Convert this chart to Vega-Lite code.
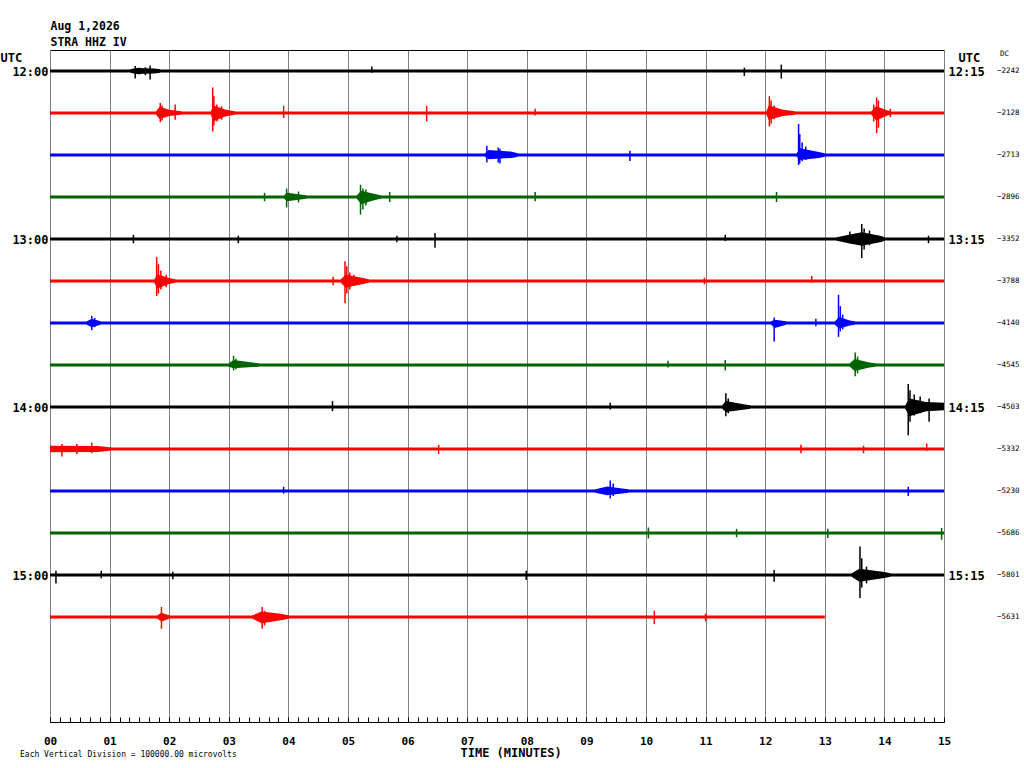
{
  "$schema": "https://vega.github.io/schema/vega-lite/v6.json",
  "width": 894,
  "height": 672,
  "autosize": "none",
  "padding": {"left": 50, "top": 50, "right": 80, "bottom": 46},
  "background": "white",
  "config": {
    "font": "DejaVu Sans Mono",
    "view": {"stroke": null},
    "axis": {"labelColor": "black", "titleColor": "black"}
  },
  "title": {
    "text": "Each Vertical Division = 100000.00 microvolts",
    "orient": "bottom",
    "anchor": "start",
    "frame": "group",
    "font": "DejaVu Sans Mono",
    "fontSize": 8,
    "fontWeight": "normal",
    "color": "black",
    "dx": -30,
    "offset": -7
  },
  "datasets": {
    "base": [
      {"tr": 0, "s": 0, "e": 15}, {"tr": 1, "s": 0, "e": 15}, {"tr": 2, "s": 0, "e": 15},
      {"tr": 3, "s": 0, "e": 15}, {"tr": 4, "s": 0, "e": 15}, {"tr": 5, "s": 0, "e": 15},
      {"tr": 6, "s": 0, "e": 15}, {"tr": 7, "s": 0, "e": 15}, {"tr": 8, "s": 0, "e": 15},
      {"tr": 9, "s": 0, "e": 15}, {"tr": 10, "s": 0, "e": 15}, {"tr": 11, "s": 0, "e": 15},
      {"tr": 12, "s": 0, "e": 15}, {"tr": 13, "s": 0, "e": 13.0}
    ],
    "dc": [
      {"tr": 0, "dc": -2242}, {"tr": 1, "dc": -2128}, {"tr": 2, "dc": -2713},
      {"tr": 3, "dc": -2896}, {"tr": 4, "dc": -3352}, {"tr": 5, "dc": -3788},
      {"tr": 6, "dc": -4140}, {"tr": 7, "dc": -4545}, {"tr": 8, "dc": -4503},
      {"tr": 9, "dc": -5332}, {"tr": 10, "dc": -5230}, {"tr": 11, "dc": -5686},
      {"tr": 12, "dc": -5801}, {"tr": 13, "dc": -5631}
    ],
    "bursts": [
      {"id": 1, "tr": 0, "t": 1.35, "lo": -0.04, "hi": 0.04},
      {"id": 1, "tr": 0, "t": 1.45, "lo": -0.07, "hi": 0.07},
      {"id": 1, "tr": 0, "t": 1.75, "lo": -0.06, "hi": 0.06},
      {"id": 1, "tr": 0, "t": 1.85, "lo": -0.04, "hi": 0.04},
      {"id": 2, "tr": 1, "t": 1.78, "lo": 0.96, "hi": 1.04},
      {"id": 2, "tr": 1, "t": 1.84, "lo": 0.85, "hi": 1.14},
      {"id": 2, "tr": 1, "t": 2.0, "lo": 0.92, "hi": 1.07},
      {"id": 2, "tr": 1, "t": 2.2, "lo": 0.96, "hi": 1.04},
      {"id": 3, "tr": 1, "t": 2.7, "lo": 0.96, "hi": 1.04},
      {"id": 3, "tr": 1, "t": 2.74, "lo": 0.82, "hi": 1.2},
      {"id": 3, "tr": 1, "t": 2.95, "lo": 0.92, "hi": 1.08},
      {"id": 3, "tr": 1, "t": 3.1, "lo": 0.96, "hi": 1.04},
      {"id": 4, "tr": 1, "t": 12.02, "lo": 0.96, "hi": 1.04},
      {"id": 4, "tr": 1, "t": 12.06, "lo": 0.82, "hi": 1.16},
      {"id": 4, "tr": 1, "t": 12.3, "lo": 0.92, "hi": 1.07},
      {"id": 4, "tr": 1, "t": 12.5, "lo": 0.96, "hi": 1.04},
      {"id": 5, "tr": 1, "t": 13.78, "lo": 0.96, "hi": 1.04},
      {"id": 5, "tr": 1, "t": 13.86, "lo": 0.84, "hi": 1.18},
      {"id": 5, "tr": 1, "t": 14.02, "lo": 0.92, "hi": 1.08},
      {"id": 5, "tr": 1, "t": 14.1, "lo": 0.96, "hi": 1.04},
      {"id": 6, "tr": 2, "t": 7.3, "lo": 1.96, "hi": 2.04},
      {"id": 6, "tr": 2, "t": 7.36, "lo": 1.88, "hi": 2.1},
      {"id": 6, "tr": 2, "t": 7.75, "lo": 1.92, "hi": 2.07},
      {"id": 6, "tr": 2, "t": 7.85, "lo": 1.96, "hi": 2.04},
      {"id": 7, "tr": 2, "t": 12.53, "lo": 1.96, "hi": 2.04},
      {"id": 7, "tr": 2, "t": 12.58, "lo": 1.84, "hi": 2.12},
      {"id": 7, "tr": 2, "t": 12.9, "lo": 1.93, "hi": 2.07},
      {"id": 7, "tr": 2, "t": 13.0, "lo": 1.96, "hi": 2.04},
      {"id": 8, "tr": 3, "t": 5.15, "lo": 2.96, "hi": 3.04},
      {"id": 8, "tr": 3, "t": 5.22, "lo": 2.85, "hi": 3.17},
      {"id": 8, "tr": 3, "t": 5.45, "lo": 2.93, "hi": 3.07},
      {"id": 8, "tr": 3, "t": 5.55, "lo": 2.96, "hi": 3.04},
      {"id": 9, "tr": 3, "t": 3.93, "lo": 2.96, "hi": 3.04},
      {"id": 9, "tr": 3, "t": 3.98, "lo": 2.9, "hi": 3.1},
      {"id": 9, "tr": 3, "t": 4.2, "lo": 2.94, "hi": 3.06},
      {"id": 9, "tr": 3, "t": 4.3, "lo": 2.96, "hi": 3.04},
      {"id": 10, "tr": 4, "t": 13.2, "lo": 3.96, "hi": 4.04},
      {"id": 10, "tr": 4, "t": 13.4, "lo": 3.9, "hi": 4.1},
      {"id": 10, "tr": 4, "t": 13.62, "lo": 3.84, "hi": 4.16},
      {"id": 10, "tr": 4, "t": 13.95, "lo": 3.93, "hi": 4.07},
      {"id": 10, "tr": 4, "t": 14.0, "lo": 3.96, "hi": 4.04},
      {"id": 11, "tr": 5, "t": 1.75, "lo": 4.96, "hi": 5.04},
      {"id": 11, "tr": 5, "t": 1.8, "lo": 4.84, "hi": 5.18},
      {"id": 11, "tr": 5, "t": 2.0, "lo": 4.93, "hi": 5.07},
      {"id": 11, "tr": 5, "t": 2.1, "lo": 4.96, "hi": 5.04},
      {"id": 12, "tr": 5, "t": 4.88, "lo": 4.96, "hi": 5.04},
      {"id": 12, "tr": 5, "t": 4.96, "lo": 4.85, "hi": 5.16},
      {"id": 12, "tr": 5, "t": 5.25, "lo": 4.93, "hi": 5.07},
      {"id": 12, "tr": 5, "t": 5.35, "lo": 4.96, "hi": 5.04},
      {"id": 13, "tr": 6, "t": 0.62, "lo": 5.96, "hi": 6.04},
      {"id": 13, "tr": 6, "t": 0.7, "lo": 5.9, "hi": 6.1},
      {"id": 13, "tr": 6, "t": 0.85, "lo": 5.96, "hi": 6.04},
      {"id": 14, "tr": 6, "t": 12.1, "lo": 5.96, "hi": 6.04},
      {"id": 14, "tr": 6, "t": 12.16, "lo": 5.92, "hi": 6.12},
      {"id": 14, "tr": 6, "t": 12.35, "lo": 5.96, "hi": 6.04},
      {"id": 15, "tr": 6, "t": 13.17, "lo": 5.96, "hi": 6.04},
      {"id": 15, "tr": 6, "t": 13.24, "lo": 5.86, "hi": 6.13},
      {"id": 15, "tr": 6, "t": 13.42, "lo": 5.94, "hi": 6.06},
      {"id": 15, "tr": 6, "t": 13.5, "lo": 5.96, "hi": 6.04},
      {"id": 16, "tr": 7, "t": 3.0, "lo": 6.96, "hi": 7.04},
      {"id": 16, "tr": 7, "t": 3.08, "lo": 6.88, "hi": 7.08},
      {"id": 16, "tr": 7, "t": 3.4, "lo": 6.94, "hi": 7.05},
      {"id": 16, "tr": 7, "t": 3.5, "lo": 6.96, "hi": 7.04},
      {"id": 17, "tr": 7, "t": 13.42, "lo": 6.96, "hi": 7.04},
      {"id": 17, "tr": 7, "t": 13.5, "lo": 6.86, "hi": 7.14},
      {"id": 17, "tr": 7, "t": 13.75, "lo": 6.94, "hi": 7.06},
      {"id": 17, "tr": 7, "t": 13.85, "lo": 6.96, "hi": 7.04},
      {"id": 18, "tr": 8, "t": 11.28, "lo": 7.96, "hi": 8.04},
      {"id": 18, "tr": 8, "t": 11.34, "lo": 7.86, "hi": 8.12},
      {"id": 18, "tr": 8, "t": 11.66, "lo": 7.94, "hi": 8.06},
      {"id": 18, "tr": 8, "t": 11.75, "lo": 7.96, "hi": 8.04},
      {"id": 19, "tr": 8, "t": 14.35, "lo": 7.96, "hi": 8.04},
      {"id": 19, "tr": 8, "t": 14.42, "lo": 7.8, "hi": 8.22},
      {"id": 19, "tr": 8, "t": 14.7, "lo": 7.88, "hi": 8.1},
      {"id": 19, "tr": 8, "t": 15.0, "lo": 7.9, "hi": 8.08},
      {"id": 20, "tr": 9, "t": 0.0, "lo": 8.92, "hi": 9.08},
      {"id": 20, "tr": 9, "t": 0.8, "lo": 8.93, "hi": 9.07},
      {"id": 20, "tr": 9, "t": 1.0, "lo": 8.96, "hi": 9.04},
      {"id": 21, "tr": 10, "t": 9.15, "lo": 9.96, "hi": 10.04},
      {"id": 21, "tr": 10, "t": 9.35, "lo": 9.89, "hi": 10.1},
      {"id": 21, "tr": 10, "t": 9.6, "lo": 9.94, "hi": 10.06},
      {"id": 21, "tr": 10, "t": 9.7, "lo": 9.96, "hi": 10.04},
      {"id": 22, "tr": 12, "t": 13.45, "lo": 11.96, "hi": 12.04},
      {"id": 22, "tr": 12, "t": 13.58, "lo": 11.85, "hi": 12.16},
      {"id": 22, "tr": 12, "t": 14.0, "lo": 11.93, "hi": 12.07},
      {"id": 22, "tr": 12, "t": 14.1, "lo": 11.96, "hi": 12.04},
      {"id": 23, "tr": 13, "t": 3.4, "lo": 12.96, "hi": 13.04},
      {"id": 23, "tr": 13, "t": 3.55, "lo": 12.87, "hi": 13.15},
      {"id": 23, "tr": 13, "t": 3.9, "lo": 12.93, "hi": 13.07},
      {"id": 23, "tr": 13, "t": 4.0, "lo": 12.96, "hi": 13.04},
      {"id": 24, "tr": 13, "t": 1.8, "lo": 12.96, "hi": 13.04},
      {"id": 24, "tr": 13, "t": 1.87, "lo": 12.9, "hi": 13.11},
      {"id": 24, "tr": 13, "t": 2.0, "lo": 12.96, "hi": 13.04}
    ],
    "spikes": [
      {"tr": 0, "t": 1.43, "lo": -0.12, "hi": 0.18},
      {"tr": 0, "t": 1.5, "lo": -0.08, "hi": 0.08},
      {"tr": 0, "t": 1.6, "lo": -0.09, "hi": 0.1},
      {"tr": 0, "t": 1.68, "lo": -0.13, "hi": 0.2},
      {"tr": 0, "t": 5.4, "lo": -0.11, "hi": 0.04},
      {"tr": 0, "t": 11.65, "lo": -0.08, "hi": 0.12},
      {"tr": 0, "t": 12.27, "lo": -0.15, "hi": 0.18},
      {"tr": 1, "t": 1.85, "lo": 0.76, "hi": 1.22},
      {"tr": 1, "t": 1.88, "lo": 0.82, "hi": 1.18},
      {"tr": 1, "t": 2.1, "lo": 0.8, "hi": 1.16},
      {"tr": 1, "t": 2.73, "lo": 0.39, "hi": 1.44},
      {"tr": 1, "t": 2.75, "lo": 0.6, "hi": 1.3},
      {"tr": 1, "t": 2.8, "lo": 0.8, "hi": 1.2},
      {"tr": 1, "t": 2.88, "lo": 0.84, "hi": 1.16},
      {"tr": 1, "t": 3.92, "lo": 0.83, "hi": 1.12},
      {"tr": 1, "t": 6.32, "lo": 0.83, "hi": 1.2},
      {"tr": 1, "t": 8.14, "lo": 0.9, "hi": 1.06},
      {"tr": 1, "t": 12.07, "lo": 0.6, "hi": 1.32},
      {"tr": 1, "t": 12.1, "lo": 0.7, "hi": 1.25},
      {"tr": 1, "t": 12.15, "lo": 0.82, "hi": 1.15},
      {"tr": 1, "t": 13.82, "lo": 0.8, "hi": 1.2},
      {"tr": 1, "t": 13.87, "lo": 0.63, "hi": 1.48},
      {"tr": 1, "t": 13.9, "lo": 0.7, "hi": 1.35},
      {"tr": 1, "t": 14.1, "lo": 0.9, "hi": 1.1},
      {"tr": 2, "t": 7.33, "lo": 1.78, "hi": 2.18},
      {"tr": 2, "t": 7.52, "lo": 1.82, "hi": 2.18},
      {"tr": 2, "t": 7.55, "lo": 1.85, "hi": 2.2},
      {"tr": 2, "t": 9.73, "lo": 1.9, "hi": 2.14},
      {"tr": 2, "t": 12.56, "lo": 1.26, "hi": 2.24},
      {"tr": 2, "t": 12.58, "lo": 1.5, "hi": 2.2},
      {"tr": 2, "t": 12.62, "lo": 1.7, "hi": 2.15},
      {"tr": 2, "t": 12.68, "lo": 1.8, "hi": 2.12},
      {"tr": 3, "t": 3.6, "lo": 2.9, "hi": 3.1},
      {"tr": 3, "t": 3.97, "lo": 2.8, "hi": 3.25},
      {"tr": 3, "t": 4.17, "lo": 2.87, "hi": 3.13},
      {"tr": 3, "t": 5.21, "lo": 2.71, "hi": 3.42},
      {"tr": 3, "t": 5.25, "lo": 2.8, "hi": 3.3},
      {"tr": 3, "t": 5.3, "lo": 2.82, "hi": 3.2},
      {"tr": 3, "t": 5.7, "lo": 2.88, "hi": 3.12},
      {"tr": 3, "t": 8.14, "lo": 2.88, "hi": 3.1},
      {"tr": 3, "t": 12.19, "lo": 2.88, "hi": 3.12},
      {"tr": 4, "t": 1.4, "lo": 3.9, "hi": 4.1},
      {"tr": 4, "t": 3.16, "lo": 3.92, "hi": 4.1},
      {"tr": 4, "t": 5.82, "lo": 3.92, "hi": 4.08},
      {"tr": 4, "t": 6.46, "lo": 3.86, "hi": 4.21},
      {"tr": 4, "t": 11.33, "lo": 3.9, "hi": 4.05},
      {"tr": 4, "t": 13.42, "lo": 3.82, "hi": 4.1},
      {"tr": 4, "t": 13.62, "lo": 3.64, "hi": 4.45},
      {"tr": 4, "t": 13.66, "lo": 3.75, "hi": 4.25},
      {"tr": 4, "t": 13.75, "lo": 3.8, "hi": 4.15},
      {"tr": 4, "t": 14.74, "lo": 3.92, "hi": 4.1},
      {"tr": 5, "t": 1.79, "lo": 4.43, "hi": 5.36},
      {"tr": 5, "t": 1.82, "lo": 4.6, "hi": 5.3},
      {"tr": 5, "t": 1.86, "lo": 4.75, "hi": 5.2},
      {"tr": 5, "t": 1.95, "lo": 4.85, "hi": 5.15},
      {"tr": 5, "t": 4.75, "lo": 4.9, "hi": 5.1},
      {"tr": 5, "t": 4.95, "lo": 4.53, "hi": 5.53},
      {"tr": 5, "t": 4.98, "lo": 4.65, "hi": 5.3},
      {"tr": 5, "t": 5.03, "lo": 4.8, "hi": 5.2},
      {"tr": 5, "t": 5.1, "lo": 4.85, "hi": 5.1},
      {"tr": 5, "t": 10.98, "lo": 4.92, "hi": 5.08},
      {"tr": 5, "t": 12.78, "lo": 4.88, "hi": 5.04},
      {"tr": 6, "t": 0.7, "lo": 5.83, "hi": 6.17},
      {"tr": 6, "t": 0.75, "lo": 5.88, "hi": 6.1},
      {"tr": 6, "t": 12.15, "lo": 5.87, "hi": 6.44},
      {"tr": 6, "t": 12.85, "lo": 5.9, "hi": 6.08},
      {"tr": 6, "t": 13.23, "lo": 5.33, "hi": 6.33},
      {"tr": 6, "t": 13.26, "lo": 5.6, "hi": 6.2},
      {"tr": 6, "t": 13.3, "lo": 5.8, "hi": 6.15},
      {"tr": 7, "t": 3.08, "lo": 6.78, "hi": 7.13},
      {"tr": 7, "t": 3.12, "lo": 6.85, "hi": 7.1},
      {"tr": 7, "t": 10.37, "lo": 6.9, "hi": 7.06},
      {"tr": 7, "t": 11.33, "lo": 6.88, "hi": 7.13},
      {"tr": 7, "t": 13.51, "lo": 6.7, "hi": 7.27},
      {"tr": 7, "t": 13.55, "lo": 6.8, "hi": 7.2},
      {"tr": 8, "t": 4.74, "lo": 7.86, "hi": 8.1},
      {"tr": 8, "t": 9.4, "lo": 7.9, "hi": 8.06},
      {"tr": 8, "t": 11.34, "lo": 7.67, "hi": 8.22},
      {"tr": 8, "t": 11.38, "lo": 7.8, "hi": 8.15},
      {"tr": 8, "t": 14.4, "lo": 7.45, "hi": 8.67},
      {"tr": 8, "t": 14.43, "lo": 7.6, "hi": 8.35},
      {"tr": 8, "t": 14.5, "lo": 7.7, "hi": 8.2},
      {"tr": 8, "t": 14.6, "lo": 7.75, "hi": 8.15},
      {"tr": 8, "t": 14.75, "lo": 7.8, "hi": 8.35},
      {"tr": 9, "t": 0.2, "lo": 8.88, "hi": 9.18},
      {"tr": 9, "t": 0.45, "lo": 8.88, "hi": 9.12},
      {"tr": 9, "t": 0.7, "lo": 8.85, "hi": 9.1},
      {"tr": 9, "t": 6.52, "lo": 8.9, "hi": 9.12},
      {"tr": 9, "t": 12.6, "lo": 8.9, "hi": 9.1},
      {"tr": 9, "t": 13.65, "lo": 8.92, "hi": 9.1},
      {"tr": 9, "t": 14.71, "lo": 8.87, "hi": 9.05},
      {"tr": 10, "t": 3.92, "lo": 9.9, "hi": 10.06},
      {"tr": 10, "t": 9.4, "lo": 9.75, "hi": 10.18},
      {"tr": 10, "t": 9.45, "lo": 9.82, "hi": 10.12},
      {"tr": 10, "t": 14.4, "lo": 9.9, "hi": 10.12},
      {"tr": 11, "t": 10.04, "lo": 10.87, "hi": 11.13},
      {"tr": 11, "t": 11.52, "lo": 10.9, "hi": 11.1},
      {"tr": 11, "t": 13.05, "lo": 10.9, "hi": 11.12},
      {"tr": 11, "t": 14.96, "lo": 10.88, "hi": 11.16},
      {"tr": 12, "t": 0.1, "lo": 11.9, "hi": 12.2},
      {"tr": 12, "t": 0.86, "lo": 11.9, "hi": 12.08},
      {"tr": 12, "t": 2.06, "lo": 11.92, "hi": 12.1},
      {"tr": 12, "t": 7.99, "lo": 11.9, "hi": 12.12},
      {"tr": 12, "t": 12.15, "lo": 11.88, "hi": 12.16},
      {"tr": 12, "t": 13.59, "lo": 11.32, "hi": 12.55},
      {"tr": 12, "t": 13.62, "lo": 11.6, "hi": 12.3},
      {"tr": 12, "t": 13.7, "lo": 11.8, "hi": 12.2},
      {"tr": 13, "t": 1.87, "lo": 12.76, "hi": 13.28},
      {"tr": 13, "t": 3.56, "lo": 12.76, "hi": 13.28},
      {"tr": 13, "t": 3.6, "lo": 12.85, "hi": 13.2},
      {"tr": 13, "t": 3.7, "lo": 12.9, "hi": 13.12},
      {"tr": 13, "t": 10.14, "lo": 12.85, "hi": 13.17},
      {"tr": 13, "t": 11.0, "lo": 12.92, "hi": 13.1}
    ]
  },
  "layer": [
    {
      "data": {"name": "base"},
      "mark": {"type": "rule", "strokeWidth": 3, "strokeCap": "butt"},
      "encoding": {
        "x": {
          "field": "s",
          "type": "quantitative",
          "scale": {"domain": [0, 15], "nice": false, "zero": false},
          "axis": {
            "orient": "bottom",
            "values": [0, 0.1667, 0.3333, 0.5, 0.6667, 0.8333, 1, 1.1667, 1.3333, 1.5, 1.6667, 1.8333, 2, 2.1667, 2.3333, 2.5, 2.6667, 2.8333, 3, 3.1667, 3.3333, 3.5, 3.6667, 3.8333, 4, 4.1667, 4.3333, 4.5, 4.6667, 4.8333, 5, 5.1667, 5.3333, 5.5, 5.6667, 5.8333, 6, 6.1667, 6.3333, 6.5, 6.6667, 6.8333, 7, 7.1667, 7.3333, 7.5, 7.6667, 7.8333, 8, 8.1667, 8.3333, 8.5, 8.6667, 8.8333, 9, 9.1667, 9.3333, 9.5, 9.6667, 9.8333, 10, 10.1667, 10.3333, 10.5, 10.6667, 10.8333, 11, 11.1667, 11.3333, 11.5, 11.6667, 11.8333, 12, 12.1667, 12.3333, 12.5, 12.6667, 12.8333, 13, 13.1667, 13.3333, 13.5, 13.6667, 13.8333, 14, 14.1667, 14.3333, 14.5, 14.6667, 14.8333, 15],
            "labelExpr": "abs(datum.value - round(datum.value)) < 0.01 ? (round(datum.value) < 10 ? '0' : '') + round(datum.value) : ''",
            "labelFont": "DejaVu Sans Mono",
            "labelFontWeight": "bold",
            "labelFontSize": 11,
            "labelPadding": 18,
            "labelFlush": false,
            "labelOverlap": false,
            "grid": true,
            "gridColor": "#808080",
            "gridWidth": 1,
            "gridOpacity": {"condition": {"test": "abs(datum.value - round(datum.value)) < 0.01", "value": 1}, "value": 0},
            "domainColor": "black",
            "tickColor": "black",
            "tickSize": -5,
            "title": "TIME (MINUTES)",
            "titleFont": "DejaVu Sans Mono",
            "titleFontWeight": "bold",
            "titleFontSize": 12,
            "titleAlign": "left",
            "titleAnchor": null,
            "titleX": 410,
            "titleY": 30,
            "titleBaseline": "middle"
          }
        },
        "x2": {"field": "e"},
        "y": {
          "field": "tr",
          "type": "quantitative",
          "scale": {"domain": [-0.5, 15.5], "reverse": true, "nice": false, "zero": false},
          "axis": {
            "orient": "left",
            "values": [0, 4, 8, 12],
            "labelExpr": "(12 + datum.value / 4) + ':00'",
            "labelFont": "DejaVu Sans Mono",
            "labelFontWeight": "bold",
            "labelFontSize": 12,
            "labelPadding": 2,
            "ticks": false,
            "domain": false,
            "grid": false,
            "title": "UTC",
            "titleFont": "DejaVu Sans Mono",
            "titleFontWeight": "bold",
            "titleFontSize": 12,
            "titleAngle": 0,
            "titleAlign": "left",
            "titleBaseline": "middle",
            "titleX": -50,
            "titleY": 7
          }
        },
        "color": {
          "field": "tr",
          "type": "nominal",
          "scale": {
            "domain": [0, 1, 2, 3, 4, 5, 6, 7, 8, 9, 10, 11, 12, 13],
            "range": ["#000000", "#ff0000", "#0000ff", "#006400", "#000000", "#ff0000", "#0000ff", "#006400", "#000000", "#ff0000", "#0000ff", "#006400", "#000000", "#ff0000"]
          },
          "legend": null
        }
      }
    },
    {
      "data": {"name": "bursts"},
      "mark": {"type": "area", "interpolate": "linear"},
      "encoding": {
        "x": {"field": "t", "type": "quantitative", "axis": null},
        "y": {"field": "lo", "type": "quantitative", "axis": null},
        "y2": {"field": "hi"},
        "detail": {"field": "id"},
        "color": {"field": "tr", "type": "nominal", "legend": null}
      }
    },
    {
      "data": {"name": "spikes"},
      "mark": {"type": "rule", "strokeWidth": 1.5},
      "encoding": {
        "x": {
          "field": "t",
          "type": "quantitative",
          "axis": {
            "orient": "top",
            "ticks": false,
            "labels": false,
            "grid": false,
            "domain": true,
            "domainColor": "black",
            "title": ["Aug 1,2026", "STRA HHZ IV"],
            "titleFont": "DejaVu Sans Mono",
            "titleFontWeight": "bold",
            "titleFontSize": 11.5,
            "titleLineHeight": 16,
            "titleAlign": "left",
            "titleAnchor": null,
            "titleBaseline": "top",
            "titleX": 0,
            "titleY": -30
          }
        },
        "y": {"field": "lo", "type": "quantitative", "axis": null},
        "y2": {"field": "hi"},
        "color": {"field": "tr", "type": "nominal", "legend": null}
      }
    },
    {
      "data": {"name": "dc"},
      "mark": {"type": "text", "align": "left", "baseline": "middle", "dx": 53, "font": "DejaVu Sans Mono", "fontSize": 7.5, "color": "black"},
      "encoding": {
        "x": {"datum": 15, "type": "quantitative", "axis": null},
        "y": {
          "field": "tr",
          "type": "quantitative",
          "axis": {
            "orient": "right",
            "values": [0, 4, 8, 12],
            "labelExpr": "(12 + datum.value / 4) + ':15'",
            "labelFont": "DejaVu Sans Mono",
            "labelFontWeight": "bold",
            "labelFontSize": 12,
            "labelPadding": 4,
            "ticks": false,
            "domain": false,
            "grid": false,
            "title": "UTC",
            "titleFont": "DejaVu Sans Mono",
            "titleFontWeight": "bold",
            "titleFontSize": 12,
            "titleAngle": 0,
            "titleAlign": "left",
            "titleBaseline": "middle",
            "titleX": 14,
            "titleY": 7
          }
        },
        "text": {"field": "dc", "type": "quantitative"}
      }
    },
    {
      "data": {"values": [{"h": "DC"}]},
      "mark": {"type": "text", "align": "left", "baseline": "middle", "dx": 56, "font": "DejaVu Sans Mono", "fontSize": 7.5, "color": "black"},
      "encoding": {
        "x": {"datum": 15, "type": "quantitative", "axis": null},
        "y": {"datum": -0.4, "type": "quantitative", "axis": null},
        "text": {"field": "h"}
      }
    }
  ],
  "resolve": {"axis": {"x": "independent", "y": "independent"}}
}
